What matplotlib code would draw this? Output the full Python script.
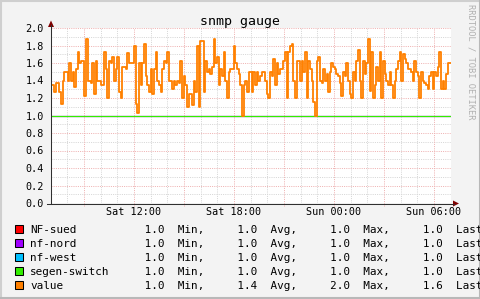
import numpy as np
import matplotlib.pyplot as plt
from matplotlib.patches import Rectangle, Polygon

W, H = 481, 299

# time axis in hours since Sat 00:00, one day shown
t_start = 7.02
t_end = 31.02

# the "value" series left to right
value = [
    1.35, 1.35, 1.27, 1.37, 1.37, 1.27, 1.13, 1.40, 1.50, 1.50,
    1.40, 1.60, 1.40, 1.50, 1.33, 1.53, 1.73, 1.60, 1.62, 1.62,
    1.22, 1.87, 1.40, 1.40, 1.37, 1.60, 1.25, 1.62, 1.40, 1.40,
    1.35, 1.35, 1.73, 1.53, 1.20, 1.62, 1.60, 1.67, 1.40, 1.53,
    1.67, 1.27, 1.20, 1.55, 1.55, 1.53, 1.72, 1.60, 1.60, 1.60,
    1.80, 1.13, 1.03, 1.60, 1.35, 1.60, 1.82, 1.45, 1.35, 1.27,
    1.53, 1.25, 1.53, 1.73, 1.40, 1.35, 1.27, 1.53, 1.62, 1.60,
    1.73, 1.40, 1.40, 1.30, 1.40, 1.35, 1.40, 1.37, 1.62, 1.20,
    1.45, 1.35, 1.10, 1.25, 1.25, 1.12, 1.40, 1.27, 1.80, 1.10,
    1.85, 1.85, 1.27, 1.62, 1.50, 1.53, 1.47, 1.55, 1.87, 1.60,
    1.67, 1.35, 1.53, 1.45, 1.73, 1.40, 1.20, 1.50, 1.53, 1.53,
    1.80, 1.60, 1.53, 1.47, 1.35, 1.00,
    1.35, 1.40, 1.27, 1.50, 1.50, 1.27, 1.50, 1.35, 1.50, 1.40,
    1.45, 1.50, 1.50, 1.40, 1.25, 1.20, 1.50, 1.45, 1.65, 1.35,
    1.60, 1.47, 1.53, 1.53, 1.62, 1.73, 1.20, 1.73, 1.80, 1.82,
    1.40, 1.20, 1.62, 1.62, 1.40, 1.62, 1.50, 1.73, 1.20, 1.62,
    1.53, 1.40, 1.15, 1.00, 1.62, 1.67, 1.40, 1.37, 1.53, 1.40,
    1.47, 1.27, 1.50, 1.60, 1.55, 1.53, 1.47, 1.45, 1.37, 1.22,
    1.50, 1.45, 1.60, 1.40, 1.25, 1.20, 1.50, 1.40, 1.62, 1.75,
    1.40, 1.20, 1.62, 1.47, 1.60, 1.88, 1.28, 1.73, 1.20, 1.35,
    1.55, 1.40, 1.73, 1.20, 1.62, 1.47, 1.40, 1.35, 1.50, 1.35,
    1.20, 1.40, 1.53, 1.62, 1.73, 1.40, 1.70, 1.65, 1.60, 1.53,
    1.53, 1.50, 1.40, 1.62, 1.50, 1.45, 1.20, 1.50, 1.40, 1.37,
    1.35, 1.30, 1.45, 1.50, 1.30, 1.50, 1.45, 1.55, 1.73, 1.30,
    1.40, 1.30, 1.47, 1.60, 1.60,
]

# the other four sources sit flat at 1.0
flat_levels = [1.0, 1.0, 1.0, 1.0]

names = ["NF-sued", "nf-nord", "nf-west", "segen-switch", "value"]
colors = ["#ff0000", "#a000ff", "#00c0ff", "#33ee00", "#ff8000"]
mins = [1.0, 1.0, 1.0, 1.0, 1.0]
avgs = [1.0, 1.0, 1.0, 1.0, 1.4]
maxs = [1.0, 1.0, 1.0, 1.0, 2.0]
lasts = [1.0, 1.0, 1.0, 1.0, 1.6]

xtick_hours = [12, 18, 24, 30]
xtick_labels = ["Sat 12:00", "Sat 18:00", "Sun 00:00", "Sun 06:00"]
ytick_values = [0.0, 0.2, 0.4, 0.6, 0.8, 1.0, 1.2, 1.4, 1.6, 1.8, 2.0]

mono = "DejaVu Sans Mono"
grid_minor = "#d6d6d6"
grid_major = "#efb2b2"
axis_col = "#303030"
arrow_col = "#800000"

fig = plt.figure(figsize=(W / 100, H / 100), dpi=100, facecolor="#f3f3f3")

# plot area: x 51..451, y 28..203 in pixels
ax = fig.add_axes([51 / W, (H - 203) / H, 400 / W, 175 / H])
ax.set_facecolor("white")
ax.set_xlim(t_start, t_end)
ax.set_ylim(0, 2)
for s in ax.spines.values():
    s.set_visible(False)

dots = dict(lw=0.72, dashes=(1, 1.2))
hours = np.arange(np.ceil(t_start), t_end, 1.0)
for h in hours:
    if h % 3:
        ax.axvline(h, color=grid_minor, **dots)
for y in np.arange(0.1, 2.0, 0.2):
    ax.axhline(y, color=grid_minor, **dots)
for h in hours:
    if h % 3 == 0:
        ax.plot([h, h], [-0.035, 2.0], color=grid_major, clip_on=False, **dots)
for y in ytick_values[1:]:
    ax.axhline(y, color=grid_major, **dots)

n = len(value)
t = t_start + np.arange(n + 1) * (t_end - t_start) / n
for lvl, c in zip(flat_levels, colors[:4]):
    ax.step(t, [lvl] * (n + 1), where="post", color=c, lw=0.8)
ax.step(t, value + value[-1:], where="post", color=colors[4], lw=1.3)

ax.set_xticks(xtick_hours, xtick_labels)
ax.set_yticks(ytick_values, [f"{v:.1f}" for v in ytick_values])
ax.tick_params(axis="x", length=0, pad=3, labelsize=7.3)
ax.tick_params(axis="y", length=0, pad=5, labelsize=7.3)
for lab in ax.get_xticklabels() + ax.get_yticklabels():
    lab.set_family(mono)

# overlay in pixel coordinates for frame, axes, arrows and legend
ov = fig.add_axes([0, 0, 1, 1], facecolor="none")
ov.set_xlim(0, W)
ov.set_ylim(H, 0)
ov.axis("off")

ov.plot([0, W], [0.5, 0.5], color="#cfcfcf", lw=1.5)
ov.plot([0.5, 0.5], [0, H], color="#cfcfcf", lw=1.5)
ov.plot([0, W], [H - 0.8, H - 0.8], color="#b8b8b8", lw=1.5)
ov.plot([W - 0.8, W - 0.8], [0, H], color="#b8b8b8", lw=1.5)

ov.plot([51, 51], [204, 25], color=axis_col, lw=0.75)
ov.plot([47, 454], [203.5, 203.5], color=axis_col, lw=0.75)
ov.add_patch(Polygon([[48, 27], [54, 27], [51, 20.5]], closed=True,
                     color=arrow_col, lw=0))
ov.add_patch(Polygon([[453, 200.5], [453, 206.5], [459, 203.5]], closed=True,
                     color=arrow_col, lw=0))

ov.text(240, 25, "snmp gauge", family=mono, fontsize=9.5,
        ha="center", va="baseline")
ov.text(471, 4, "RRDTOOL / TOBI OETIKER", family=mono, fontsize=6.3,
        color="#b0b0b0", rotation=270, ha="center", va="top")

for i, name in enumerate(names):
    yb = 233 + 14 * i
    ov.add_patch(Rectangle((15.5, yb - 8), 7.5, 7.5, fc=colors[i],
                           ec="black", lw=0.75))
    ov.text(30, yb, name, family=mono, fontsize=7.9, va="baseline")
    stats = (f"{mins[i]:4.1f}  Min,{avgs[i]:8.1f}  Avg,"
             f"{maxs[i]:8.1f}  Max,{lasts[i]:8.1f}  Last")
    ov.text(138, yb, stats, family=mono, fontsize=7.9, va="baseline")

fig.savefig("out.png", dpi=100, facecolor=fig.get_facecolor())
